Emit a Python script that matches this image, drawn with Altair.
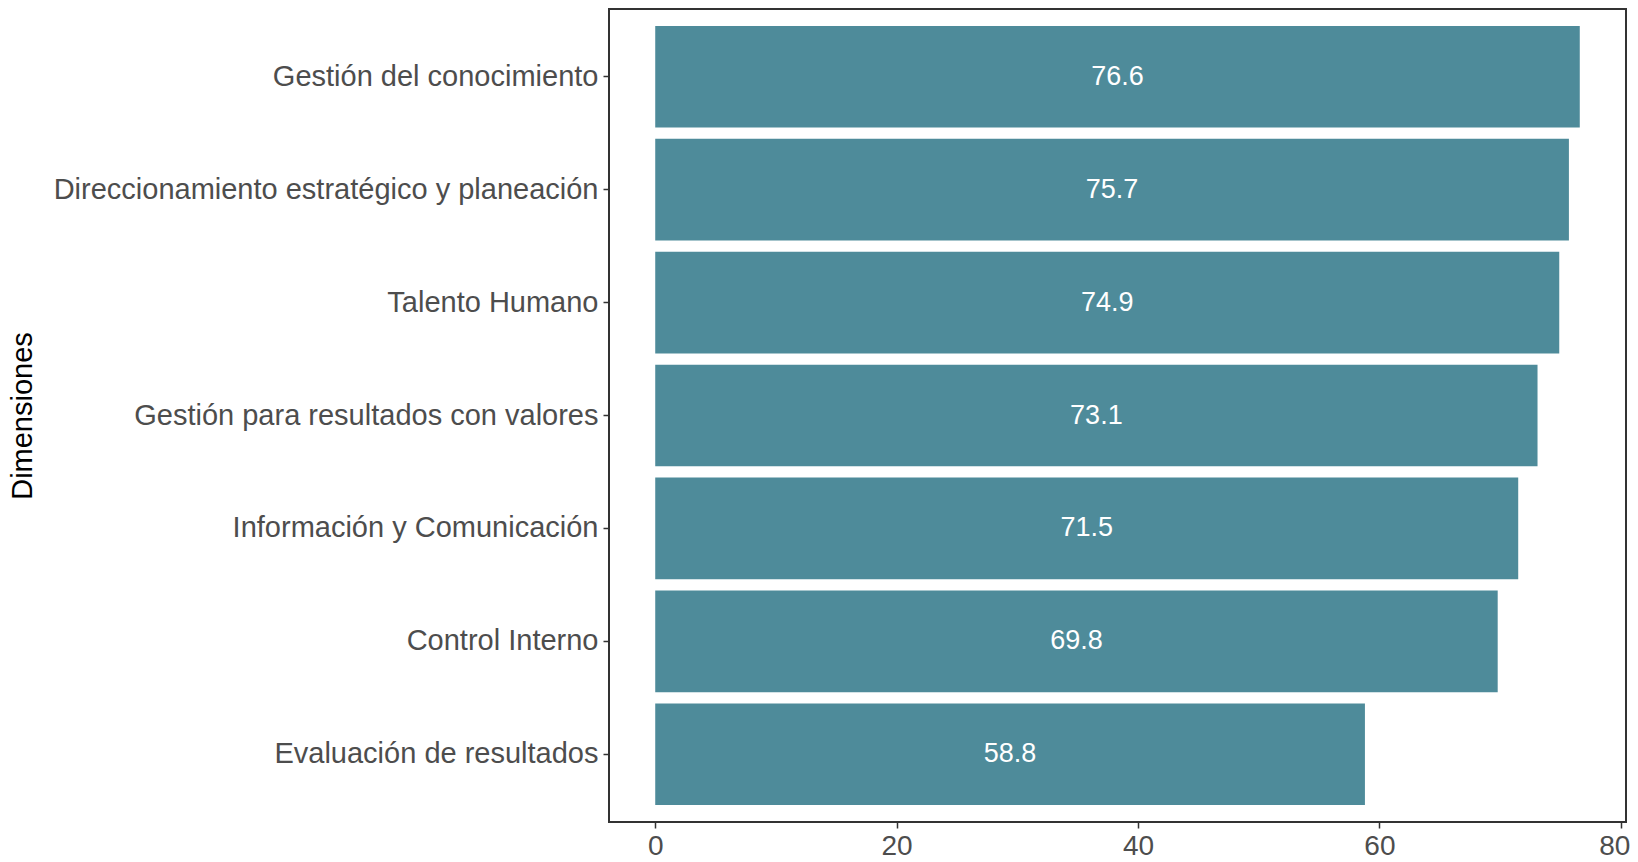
import altair as alt
import pandas as pd

categories = [
    "Gestión del conocimiento",
    "Direccionamiento estratégico y planeación",
    "Talento Humano",
    "Gestión para resultados con valores",
    "Información y Comunicación",
    "Control Interno",
    "Evaluación de resultados",
]
values = [76.6, 75.7, 74.9, 73.1, 71.5, 69.8, 58.8]
x_ticks = [0, 20, 40, 60, 80]

df = pd.DataFrame({"dim": categories, "val": values})
df["lbl"] = [f"{v:.1f}" for v in values]

x_scale = alt.Scale(domain=[-3.83, 80.43], nice=False, zero=False)
y_enc = alt.Y(
    "dim:N",
    sort=categories,
    scale=alt.Scale(paddingInner=0.1, paddingOuter=0.15),
    axis=alt.Axis(
        title="Dimensiones",
        titleFont="Liberation Sans",
        titleFontSize=29,
        titleFontWeight="normal",
        titleColor="#000000",
        titleBaseline="alphabetic",
        titleX=-578,
        labelFont="Liberation Sans",
        labelFontSize=29,
        labelColor="#4D4D4D",
        labelLimit=0,
        labelPadding=5,
        tickColor="#333333",
        tickWidth=1.5,
        tickSize=6,
        domain=False,
        grid=False,
    ),
)

base = alt.Chart(df)

bars = base.mark_bar(color="#4E8B9A").encode(
    x=alt.X(
        "val:Q",
        scale=x_scale,
        axis=alt.Axis(
            title=None,
            values=x_ticks,
            labelFont="Liberation Sans",
            labelFontSize=28,
            labelColor="#4D4D4D",
            labelPadding=4,
            labelFlush=10,
            labelFlushOffset=9,
            tickColor="#333333",
            tickWidth=1.5,
            tickSize=6,
            domain=False,
            grid=False,
        ),
    ),
    x2=alt.datum(0),
    y=y_enc,
)

labels = base.transform_calculate(mid="datum.val / 2").mark_text(
    color="white", font="Liberation Sans", fontSize=27, baseline="middle", align="center"
).encode(
    x=alt.X("mid:Q", scale=x_scale),
    y=alt.Y("dim:N", sort=categories),
    text="lbl:N",
)

chart = (
    alt.layer(bars, labels)
    .properties(
        width=1017,
        height=813,
        autosize=alt.AutoSizeParams(type="none"),
        padding={"left": 601, "top": 1, "right": 4, "bottom": 40},
    )
    .configure(background="white")
    .configure_view(stroke="#333333", strokeWidth=2)
)

chart.save("out.html", embed_options={"renderer": "svg", "actions": False})
